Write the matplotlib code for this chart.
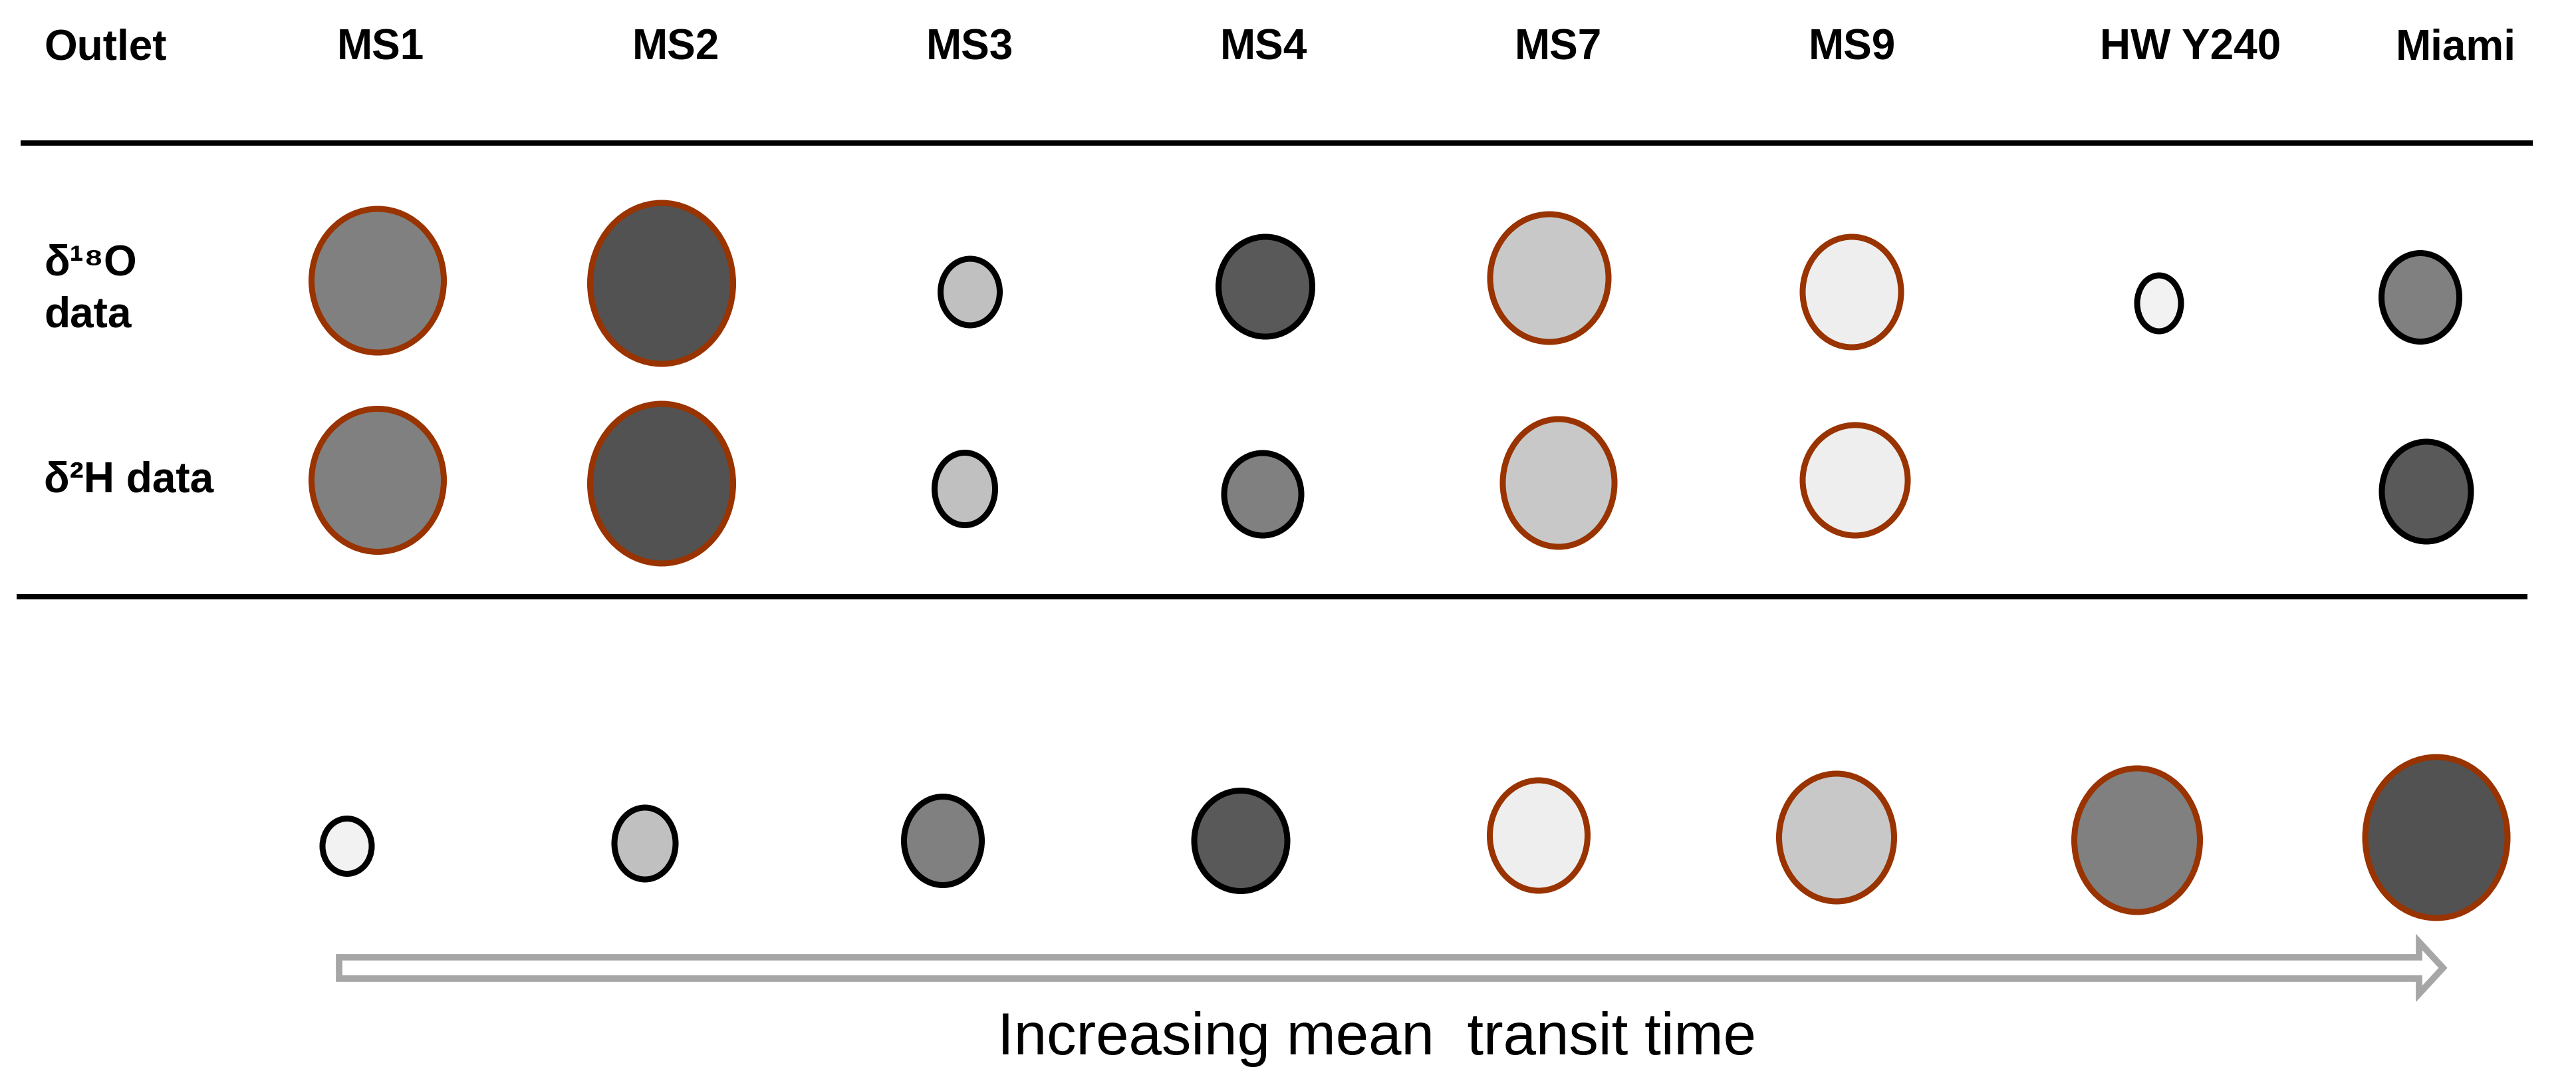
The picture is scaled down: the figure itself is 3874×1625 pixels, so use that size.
import numpy as np
import matplotlib.pyplot as plt
from matplotlib.patches import Ellipse, FancyArrow

plt.rcParams['font.family'] = ['Liberation Sans', 'DejaVu Sans']

# outlets and measured symbol sizes (px, outer size incl. edge)
outlets = ['MS1', 'MS2', 'MS3', 'MS4', 'MS7', 'MS9', 'HW Y240', 'Miami']

o18_w = [208, 224, 98, 150, 187, 157, 75, 126]
o18_h = [225, 251, 109, 159, 201, 175, 93, 142]
o18_fill = ['#808080', '#525252', '#c0c0c0', '#595959', '#c8c8c8', '#eeeeee', '#f2f2f2', '#808080']
o18_edge = ['#993300', '#993300', 'black', 'black', '#993300', '#993300', 'black', 'black']

h2_w = [208, 224, 100, 125, 177, 167, np.nan, 143]
h2_h = [224, 249, 118, 133, 201, 175, np.nan, 159]
h2_fill = ['#808080', '#525252', '#c0c0c0', '#808080', '#c8c8c8', '#eeeeee', None, '#595959']
h2_edge = ['#993300', '#993300', 'black', 'black', '#993300', '#993300', None, 'black']

mtt_w = [83, 101, 126, 149, 156, 182, 198, 223]
mtt_h = [92, 117, 142, 160, 175, 201, 225, 251]
mtt_fill = ['#f2f2f2', '#c0c0c0', '#808080', '#595959', '#eeeeee', '#c8c8c8', '#808080', '#525252']
mtt_edge = ['black', 'black', 'black', 'black', '#993300', '#993300', '#993300', '#993300']

# layout (pixel coordinates)
header_x = [572, 1016, 1458, 1900, 2343, 2785, 3294, 3693]
o18_x = [568, 995, 1459, 1903, 2330, 2785, 3247, 3640]
o18_y = [422, 426, 439, 431, 418, 439, 456, 447]
h2_x = [568, 995, 1451, 1899, 2344, 2790, 3247, 3649]
h2_y = [722, 727, 735, 743, 726, 722, 730, 739]
mtt_x = [522, 970, 1418, 1866, 2314, 2762, 3214, 3664]
mtt_y = [1272, 1268, 1264, 1264, 1256, 1259, 1263, 1259]

W, H = 3874, 1625
fig = plt.figure(figsize=(W / 100, H / 100), dpi=100)
ax = fig.add_axes([0, 0, 1, 1])
ax.set_xlim(0, W)
ax.set_ylim(H, 0)
ax.axis('off')

lw_px = 9
lw = lw_px * 0.72


def draw_row(xs, ys, ws, hs, fills, edges):
    for x, y, w, h, fc, ec in zip(xs, ys, ws, hs, fills, edges):
        if fc is None or np.isnan(w):
            continue
        ax.add_patch(Ellipse((x, y), w - lw_px, h - lw_px, facecolor=fc,
                             edgecolor=ec, linewidth=lw))


draw_row(o18_x, o18_y, o18_w, o18_h, o18_fill, o18_edge)
draw_row(h2_x, h2_y, h2_w, h2_h, h2_fill, h2_edge)
draw_row(mtt_x, mtt_y, mtt_w, mtt_h, mtt_fill, mtt_edge)

# header
ax.text(66, 89, 'Outlet', fontsize=46, fontweight='bold', ha='left', va='baseline')
for x, name in zip(header_x, outlets):
    ax.text(x, 89, name, fontsize=46, fontweight='bold', ha='center', va='baseline')

# row labels
ax.text(66, 413, 'δ¹⁸O', fontsize=46, fontweight='bold', ha='left', va='baseline')
ax.text(66, 491, 'data', fontsize=46, fontweight='bold', ha='left', va='baseline')
ax.text(66, 740, 'δ²H data', fontsize=46, fontweight='bold', ha='left', va='baseline')

# horizontal rules
ax.plot([31, 3809], [215, 215], color='black', lw=8 * 0.72, solid_capstyle='butt')
ax.plot([25, 3801], [897, 897], color='black', lw=8 * 0.72, solid_capstyle='butt')

# hollow arrow
ax.add_patch(FancyArrow(510, 1455, 3674 - 510, 0, width=32, head_width=78,
                        head_length=36, length_includes_head=True,
                        facecolor='white', edgecolor='#a6a6a6', linewidth=7))

ax.text(2070, 1585, 'Increasing mean  transit time', fontsize=64,
        ha='center', va='baseline')

fig.savefig('out.png', dpi=100)
